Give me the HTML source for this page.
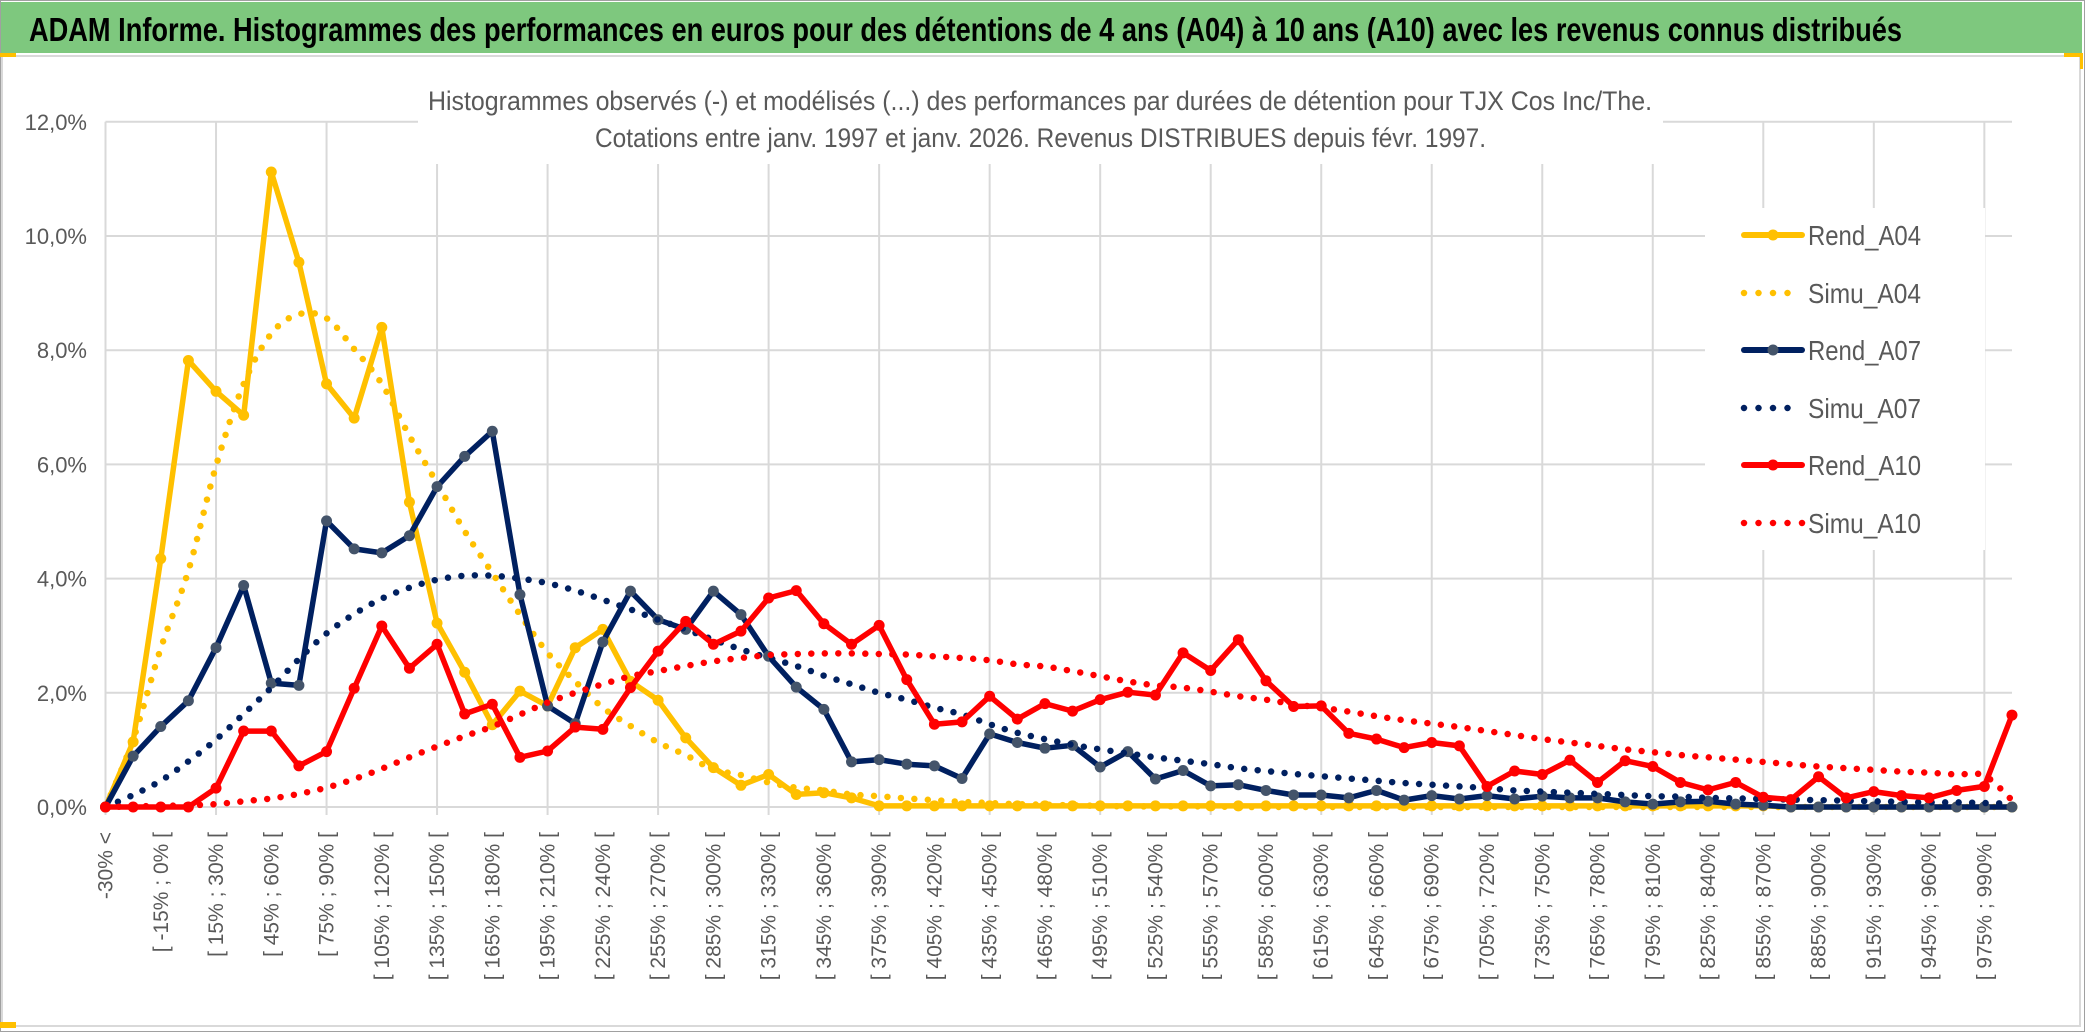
<!DOCTYPE html>
<html><head><meta charset="utf-8"><style>
html,body{margin:0;padding:0;background:#fff}
svg{display:block}
text{font-family:"Liberation Sans",sans-serif}
</style></head><body>
<svg id="chart" width="2086" height="1033" viewBox="0 0 2086 1033" xmlns="http://www.w3.org/2000/svg">
<rect x="0.5" y="0.5" width="2084" height="1031" fill="#fff" stroke="#a0a0a0"/>
<rect x="1" y="2" width="2081" height="51" fill="#7ec87e"/>
<text x="29" y="41" font-size="33" font-weight="bold" fill="#000" textLength="1873" lengthAdjust="spacingAndGlyphs">ADAM Informe. Histogrammes des performances en euros pour des détentions de 4 ans (A04) à 10 ans (A10) avec les revenus connus distribués</text>
<rect x="2" y="56" width="2078" height="970" fill="#fff" stroke="#d9d9d9" stroke-width="2"/>
<rect x="0" y="53" width="16" height="4" fill="#ffc000"/>
<rect x="2064" y="53" width="18" height="4" fill="#ffc000"/>
<rect x="2080" y="53" width="3" height="16" fill="#ffc000"/>
<rect x="0" y="1022" width="16" height="6" fill="#ffc000"/>
<g id="grid"></g>
<rect x="418" y="80" width="1245" height="84" fill="#fff"/>
<text x="428" y="110" font-size="27" fill="#595959" textLength="1224" lengthAdjust="spacingAndGlyphs">Histogrammes observés (-) et modélisés (...) des performances par durées de détention pour TJX Cos Inc/The.</text>
<text x="595" y="147" font-size="27" fill="#595959" textLength="891" lengthAdjust="spacingAndGlyphs">Cotations entre janv. 1997 et janv. 2026. Revenus DISTRIBUES depuis févr. 1997.</text>
<g id="yaxis"></g>
<g id="xaxis"></g>
<g id="series"></g>
<rect x="1705" y="208" width="280" height="342" fill="#fff"/>
<g id="legend"></g>
</svg>
<script>
const rendA04 = [0,1.14,4.35,7.82,7.28,6.86,11.12,9.54,7.41,6.81,8.40,5.34,3.22,2.36,1.44,2.03,1.77,2.79,3.11,2.20,1.87,1.21,0.69,0.38,0.57,0.22,0.25,0.16,0.02,0.02,0.02,0.02,0.02,0.02,0.02,0.02,0.02,0.02,0.02,0.02,0.02,0.02,0.02,0.02,0.02,0.02,0.02,0.02,0.02,0.02,0.02,0.02,0.02,0.02,0.02,0.02,0.02,0.02,0.02,0.02,0.02,0,0,0,0,0,0,0,0,0];
const simuA04 = [0,1.18,2.78,4.14,5.97,7.41,8.29,8.63,8.56,8.02,7.41,6.5,5.67,4.83,4.1,3.37,2.70,2.20,1.74,1.42,1.13,0.91,0.66,0.56,0.43,0.34,0.29,0.22,0.19,0.15,0.12,0.09,0.07,0.05,0.04,0.03,0.02,0.01,0.01,0.01,0.01,0,0,0,0,0,0,0,0,0,0,0,0,0,0,0,0,0,0,0,0,0,0,0,0,0,0,0,0,0];
const rendA07 = [0,0.89,1.41,1.86,2.79,3.88,2.17,2.13,5.01,4.52,4.45,4.75,5.61,6.14,6.58,3.72,1.77,1.46,2.89,3.78,3.28,3.11,3.78,3.37,2.64,2.10,1.71,0.79,0.83,0.75,0.72,0.50,1.28,1.13,1.03,1.08,0.70,0.97,0.49,0.64,0.37,0.39,0.29,0.21,0.21,0.16,0.29,0.12,0.20,0.14,0.20,0.14,0.19,0.16,0.16,0.09,0.05,0.09,0.10,0.05,0.03,0,0,0,0,0,0,0,0,0];
const simuA07 = [0,0.21,0.46,0.8,1.18,1.63,2.09,2.59,3.04,3.38,3.65,3.84,3.98,4.05,4.05,4.0,3.92,3.79,3.63,3.46,3.28,3.11,2.93,2.76,2.61,2.47,2.30,2.15,2.0,1.88,1.74,1.62,1.45,1.30,1.19,1.09,1.01,0.94,0.87,0.81,0.75,0.68,0.63,0.58,0.54,0.50,0.46,0.42,0.39,0.36,0.33,0.29,0.27,0.25,0.23,0.21,0.19,0.18,0.16,0.15,0.14,0.13,0.12,0.11,0.10,0.09,0.08,0.08,0.07,0.06];
const rendA10 = [0,0,0,0,0.33,1.33,1.33,0.72,0.97,2.08,3.17,2.43,2.85,1.63,1.80,0.87,0.98,1.40,1.36,2.09,2.73,3.25,2.85,3.08,3.66,3.79,3.21,2.85,3.18,2.23,1.45,1.49,1.94,1.54,1.81,1.68,1.88,2.01,1.96,2.70,2.39,2.93,2.21,1.76,1.77,1.29,1.19,1.04,1.13,1.07,0.36,0.63,0.57,0.82,0.43,0.81,0.71,0.43,0.30,0.43,0.17,0.13,0.53,0.16,0.27,0.20,0.16,0.29,0.36,1.61];
const simuA10 = [0,0.01,0.02,0.03,0.05,0.10,0.15,0.23,0.34,0.49,0.67,0.87,1.06,1.24,1.41,1.62,1.83,2.0,2.15,2.29,2.38,2.47,2.55,2.61,2.66,2.68,2.69,2.69,2.68,2.67,2.64,2.61,2.57,2.50,2.46,2.38,2.29,2.20,2.13,2.09,2.02,1.94,1.88,1.80,1.74,1.67,1.59,1.52,1.46,1.40,1.33,1.26,1.19,1.13,1.07,1.01,0.96,0.91,0.87,0.83,0.79,0.75,0.71,0.68,0.65,0.62,0.60,0.57,0.55,0.12];
const yTicks = [0,2,4,6,8,10,12];
const yTickLabels = ["0,0%","2,0%","4,0%","6,0%","8,0%","10,0%","12,0%"];
const binStarts = [];
for (let k = -30; k <= 975; k += 15) binStarts.push(k);
const categories = ["-30% <"].concat(binStarts.map(k => "[ " + k + "% ; " + (k + 15) + "% [")).slice(0, 69).concat(["> 990%"]);
const seriesNames = ["Rend_A04","Simu_A04","Rend_A07","Simu_A07","Rend_A10","Simu_A10"];

const NS = "http://www.w3.org/2000/svg";
const X0 = 105.5, DX = 27.63, Y0 = 807, PY = 57.1, XR = 2012;
function xs(i){ return X0 + DX * i; }
function ys(v){ return Y0 - PY * v; }
function mk(tag, attrs, parent){ const e = document.createElementNS(NS, tag); for (const k in attrs) e.setAttribute(k, attrs[k]); parent.appendChild(e); return e; }

const grid = document.getElementById('grid');
yTicks.forEach((t) => {
  const l = mk('line', {x1: X0, x2: XR, y1: ys(t), y2: ys(t), stroke: '#d9d9d9', 'stroke-width': 2}, grid);
  
  
});
for (let i = 0; i < categories.length; i += 4) {
  const l = mk('line', {x1: xs(i), x2: xs(i), y1: ys(12), y2: Y0 + 8, stroke: '#d9d9d9', 'stroke-width': 2}, grid);
  
  
}

const yaxis = document.getElementById('yaxis');
yTicks.forEach((t, k) => {
  const tx = mk('text', {x: 87, y: ys(t) + 8, 'font-size': 22, fill: '#595959', 'text-anchor': 'end'}, yaxis);
  tx.textContent = yTickLabels[k];
  
  
});

const xaxis = document.getElementById('xaxis');
categories.forEach((c, i) => {
  if (i % 2 !== 0) return;
  const x = xs(i) + 7, y = 832;
  const tx = mk('text', {x: x, y: y, 'font-size': 21, fill: '#595959', 'text-anchor': 'end', transform: 'rotate(-90 ' + x + ' ' + y + ')'}, xaxis);
  tx.textContent = c;
  
  
});

function linePath(vals){ return vals.map((v, i) => (i ? 'L' : 'M') + xs(i).toFixed(1) + ',' + ys(v).toFixed(1)).join(''); }
function smoothPath(vals){
  const p = vals.map((v, i) => [xs(i), ys(v)]);
  let d = 'M' + p[0][0] + ',' + p[0][1];
  for (let i = 0; i < p.length - 1; i++) {
    const p0 = p[i - 1] || p[i], p1 = p[i], p2 = p[i + 1], p3 = p[i + 2] || p2;
    const c1x = p1[0] + (p2[0] - p0[0]) / 6, c1y = p1[1] + (p2[1] - p0[1]) / 6;
    const c2x = p2[0] - (p3[0] - p1[0]) / 6, c2y = p2[1] - (p3[1] - p1[1]) / 6;
    d += 'C' + c1x.toFixed(1) + ',' + c1y.toFixed(1) + ' ' + c2x.toFixed(1) + ',' + c2y.toFixed(1) + ' ' + p2[0].toFixed(1) + ',' + p2[1].toFixed(1);
  }
  return d;
}
const series = document.getElementById('series');
function drawRend(vals, color, mcolor, name){
  const g = mk('g', {}, series);
  
  
  const p = mk('path', {d: linePath(vals), fill: 'none', stroke: color, 'stroke-width': 5.5, 'stroke-linejoin': 'round'}, g);
  
  
  vals.forEach((v, i) => {
    const c = mk('circle', {cx: xs(i), cy: ys(v), r: 5.5, fill: mcolor}, g);
    
    
  });
}
function drawSimu(vals, color, name){
  const p = mk('path', {d: smoothPath(vals), fill: 'none', stroke: color, 'stroke-width': 6.5, 'stroke-linecap': 'round', 'stroke-dasharray': '0 13.5'}, series);
  
  
}
drawRend(rendA04, '#ffc000', '#ffc000', 'rend-a04');
drawSimu(simuA04, '#ffc000', 'simu-a04');
drawRend(rendA07, '#002060', '#44546a', 'rend-a07');
drawSimu(simuA07, '#002060', 'simu-a07');
drawRend(rendA10, '#ff0000', '#ff0000', 'rend-a10');
drawSimu(simuA10, '#ff0000', 'simu-a10');

const legend = document.getElementById('legend');
const legColors = ['#ffc000','#ffc000','#002060','#002060','#ff0000','#ff0000'];
const legMarker = ['#ffc000',null,'#44546a',null,'#ff0000',null];
const legY = [235,293,350,408,465,523];
seriesNames.forEach((n, k) => {
  const g = mk('g', {}, legend);
  
  
  const y = legY[k];
  if (k % 2 === 0) {
    mk('line', {x1: 1744, x2: 1802, y1: y, y2: y, stroke: legColors[k], 'stroke-width': 6, 'stroke-linecap': 'round'}, g);
    mk('circle', {cx: 1773, cy: y, r: 5.5, fill: legMarker[k]}, g);
  } else {
    const n2 = k === 5 ? 5 : 4;
    mk('line', {x1: 1744, x2: 1744 + 14.5 * (n2 - 1) + 0.1, y1: y, y2: y, stroke: legColors[k], 'stroke-width': 6.5, 'stroke-linecap': 'round', 'stroke-dasharray': '0 14.5'}, g);
  }
  const t = mk('text', {x: 1808, y: y + 10, 'font-size': 28, fill: '#595959', textLength: 113, lengthAdjust: 'spacingAndGlyphs'}, g);
  t.textContent = n;
});
</script>
</body></html>
